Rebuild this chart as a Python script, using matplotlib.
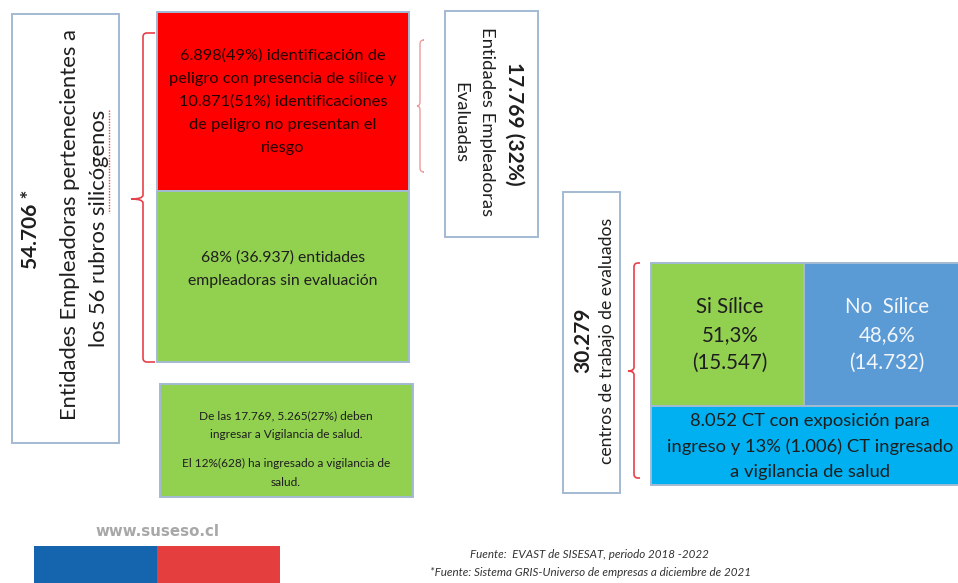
import numpy as np
import matplotlib.pyplot as plt
from matplotlib.patches import Rectangle
from matplotlib.path import Path
from matplotlib.patches import PathPatch

plt.rcParams['font.family'] = ['Lato', 'DejaVu Sans']

# textos y cifras del esquema
total_entidades = '54.706 *'
total_lines = ['Entidades Empleadoras pertenecientes a', 'los 56 rubros silicógenos']
evaluadas = '17.769 (32%)'
evaluadas_lines = ['Entidades Empleadoras', 'Evaluadas']
rojo_text = ['6.898(49%) identificación de', 'peligro con presencia de sílice y',
             '10.871(51%) identificaciones', 'de peligro no presentan el', 'riesgo']
verde_text = ['68% (36.937) entidades', 'empleadoras sin evaluación']
vigilancia_text = ['De las 17.769, 5.265(27%) deben', 'ingresar a Vigilancia de salud.',
                   'El 12%(628) ha ingresado a vigilancia de', 'salud.']
centros = '30.279'
centros_label = 'centros de trabajo de evaluados'
silice_labels = ['Si Sílice', 'No  Sílice']
silice_pct = ['51,3%', '48,6%']
silice_n = ['(15.547)', '(14.732)']
exposicion_text = ['8.052 CT con exposición para', 'ingreso y 13% (1.006) CT ingresado',
                   'a vigilancia de salud']
fuentes = ['Fuente:  EVAST de SISESAT, periodo 2018 -2022',
           '*Fuente: Sistema GRIS-Universo de empresas a diciembre de 2021']
sitio = 'www.suseso.cl'

border = '#a3bad3'
dark = '#1e1e1e'


def box(ax, x0, y0, x1, y1, fc, ec=border, lw=1.4):
    ax.add_patch(Rectangle((x0, y0), x1 - x0, y1 - y0, facecolor=fc,
                           edgecolor=ec, linewidth=lw))


def brace(ax, x, y0, ym, y1, w, color, lw=1.2):
    # llave vertical: puntas hacia la derecha, pico central hacia la izquierda
    r = 4
    verts = [(x + w, y0), (x + r, y0), (x, y0), (x, y0 + r),
             (x, ym - r), (x, ym), (x - w, ym), (x, ym), (x, ym + r),
             (x, y1 - r), (x, y1), (x + r, y1), (x + w, y1)]
    codes = [Path.MOVETO, Path.LINETO, Path.CURVE3, Path.CURVE3,
             Path.LINETO, Path.CURVE3, Path.CURVE3, Path.CURVE3, Path.CURVE3,
             Path.LINETO, Path.CURVE3, Path.CURVE3, Path.LINETO]
    ax.add_patch(PathPatch(Path(verts, codes), fill=False, edgecolor=color, lw=lw))


fig = plt.figure(figsize=(9.58, 5.83), dpi=100)
ax = fig.add_axes([0, 0, 1, 1])
ax.set_xlim(0, 958)
ax.set_ylim(583, 0)
ax.axis('off')

# caja izquierda
box(ax, 12, 14, 119, 443, 'white')
ax.text(31, 229, total_entidades, rotation=90, ha='center', va='center',
        fontsize=15, fontweight='bold', color=dark)
ax.text(70, 225, total_lines[0], rotation=90, ha='center', va='center',
        fontsize=15.8, color=dark)
ax.text(99, 228, total_lines[1], rotation=90, ha='center', va='center',
        fontsize=15.8, color=dark)
ax.plot([109, 109], [110, 213], color='#e05050', lw=1, ls=(0, (1, 1)))

brace(ax, 143, 33, 199, 362, 12, '#e8404a')

# rojo / verde
box(ax, 157, 12, 409, 191, '#ff0000')
for i, t in enumerate(rojo_text):
    ax.text(283, 56 + i * 23, t, ha='center', va='center', fontsize=11.8, color='#220000')
box(ax, 157, 191, 409, 362, '#92d050')
for i, t in enumerate(verde_text):
    ax.text(283, 258 + i * 23, t, ha='center', va='center', fontsize=11.3, color=dark)

brace(ax, 420, 40, 106, 172, 3, '#f29a9a', lw=1)

# caja evaluadas
box(ax, 445, 11, 538, 237, 'white')
ax.text(514, 124, evaluadas, rotation=270, ha='center', va='center',
        fontsize=15, fontweight='bold', color=dark)
ax.text(487, 122, evaluadas_lines[0], rotation=270, ha='center', va='center',
        fontsize=13.3, color=dark)
ax.text(460, 123, evaluadas_lines[1], rotation=270, ha='center', va='center',
        fontsize=13.3, color=dark)

# vigilancia
box(ax, 160, 384, 413, 497, '#92d050')
ys = [416, 435, 463, 482]
for y, t in zip(ys, vigilancia_text):
    ax.text(286, y, t, ha='center', va='center', fontsize=8.6, color=dark)

# centros de trabajo
box(ax, 563, 192, 620, 493, 'white')
ax.text(583, 340, centros, rotation=90, ha='center', va='center',
        fontsize=15, fontweight='bold', color=dark)
ax.text(607, 341, centros_label, rotation=90, ha='center', va='center',
        fontsize=12.7, color=dark)

brace(ax, 634, 263, 371, 478, 6, '#e8404a')

# silice
box(ax, 651, 263, 804, 406, '#92d050')
box(ax, 804, 263, 960, 406, '#5b9bd5')
box(ax, 651, 406, 960, 485, '#00b0f0')
cols = [dark, '#f2f6fb']
xs = [730, 887]
for x, lab, p, n, c in zip(xs, silice_labels, silice_pct, silice_n, cols):
    for j, t in enumerate([lab, p, n]):
        ax.text(x, 307 + j * 28, t, ha='center', va='center', fontsize=14.8, color=c)
for i, t in enumerate(exposicion_text):
    ax.text(810, 421 + i * 25.5, t, ha='center', va='center', fontsize=13.2, color=dark)

# logo
ax.text(157, 532, sitio, ha='center', va='center', fontsize=10.8,
        color='#a8a8a8', family='DejaVu Sans', fontweight='bold')
ax.add_patch(Rectangle((34, 546), 123, 40, facecolor='#1565ae', edgecolor='none'))
ax.add_patch(Rectangle((157, 546), 123, 40, facecolor='#e53e3e', edgecolor='none'))

# fuentes
ax.text(589, 555, fuentes[0], ha='center', va='center', fontsize=8.4,
        style='italic', color='#333333')
ax.text(591, 572, fuentes[1], ha='center', va='center', fontsize=8.4,
        style='italic', color='#333333')

fig.savefig('out.png', dpi=100)
